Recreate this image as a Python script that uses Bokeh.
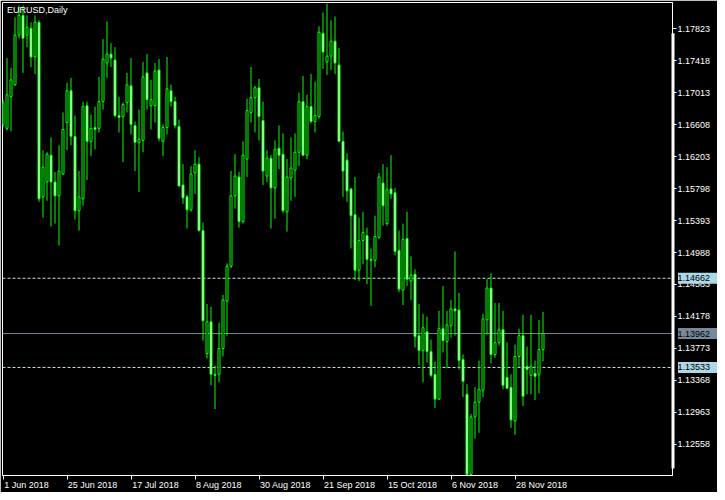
from bokeh.plotting import figure
from bokeh.models import Range1d, FixedTicker, PrintfTickFormatter, Span, Label, ColumnDataSource
from bokeh.embed import file_html
from bokeh.resources import INLINE
from bokeh.core.properties import value

symbol_title = "EURUSD,Daily"

opens = [1.16609, 1.16559, 1.16960, 1.17111, 1.17739, 1.17990, 1.17739, 1.17827, 1.17463, 1.17902,
         1.15693, 1.15881, 1.16220, 1.15881, 1.15705, 1.15981, 1.16634, 1.17036, 1.16458, 1.15517,
         1.15667, 1.16847, 1.16395, 1.16571, 1.16559, 1.16898, 1.17387, 1.17500, 1.17425, 1.16722,
         1.16709, 1.16885, 1.17098, 1.16596, 1.16383, 1.16408, 1.17262, 1.16847, 1.16847, 1.17299,
         1.16395, 1.16571, 1.17036, 1.16898, 1.16584, 1.15843, 1.15693, 1.15529, 1.15994, 1.16107,
         1.15266, 1.13709, 1.14111, 1.13446, 1.13446, 1.13772, 1.14374, 1.14814, 1.15705, 1.15944,
         1.15379, 1.16170, 1.16760, 1.16948, 1.17073, 1.16659, 1.15956, 1.16182, 1.15805, 1.16308,
         1.16232, 1.15504, 1.15931, 1.16031, 1.16257, 1.16898, 1.16220, 1.16835, 1.16647, 1.16709,
         1.17764, 1.17400, 1.17475, 1.17663, 1.17362, 1.16395, 1.16157, 1.15793, 1.15467, 1.14764,
         1.15140, 1.15203, 1.14902, 1.14889, 1.15178, 1.15868, 1.15354, 1.15793, 1.15743, 1.15015,
         1.14513, 1.15165, 1.14626, 1.14713, 1.13935, 1.13747, 1.13985, 1.13734, 1.13446, 1.13132,
         1.14023, 1.13860, 1.14061, 1.14274, 1.14261, 1.13634, 1.13194, 1.12178, 1.12906, 1.13094,
         1.13245, 1.14136, 1.14538, 1.13697, 1.13847, 1.14010, 1.13408, 1.13282, 1.12856, 1.13671,
         1.13935, 1.13546, 1.13433, 1.13458, 1.13446, 1.13759]

highs = [1.16923, 1.17450, 1.17324, 1.17965, 1.18115, 1.18115, 1.17990, 1.17902, 1.17990, 1.17927,
         1.16283, 1.16257, 1.16446, 1.16006, 1.16345, 1.16760, 1.17136, 1.17199, 1.16722, 1.16019,
         1.16898, 1.16898, 1.16734, 1.16835, 1.17211, 1.17688, 1.17914, 1.17638, 1.17588, 1.16960,
         1.16885, 1.17262, 1.17450, 1.16647, 1.16797, 1.17400, 1.17500, 1.17174, 1.17387, 1.17437,
         1.16609, 1.17463, 1.17111, 1.16960, 1.16672, 1.16107, 1.15718, 1.16082, 1.16283, 1.16195,
         1.15366, 1.14337, 1.14299, 1.13559, 1.14098, 1.14450, 1.14851, 1.16019, 1.16232, 1.16006,
         1.16395, 1.16935, 1.17337, 1.17098, 1.17186, 1.16898, 1.16283, 1.16220, 1.16408, 1.16596,
         1.16496, 1.16170, 1.16446, 1.16496, 1.17011, 1.17224, 1.16985, 1.17249, 1.17149, 1.17852,
         1.18027, 1.18140, 1.17927, 1.17977, 1.17575, 1.16521, 1.16245, 1.15805, 1.15944, 1.15429,
         1.15504, 1.15303, 1.15040, 1.15454, 1.15994, 1.16107, 1.16069, 1.16220, 1.15805, 1.15266,
         1.15354, 1.15504, 1.14939, 1.14776, 1.14337, 1.14211, 1.14174, 1.13885, 1.13609, 1.14249,
         1.14563, 1.14249, 1.14387, 1.15002, 1.14475, 1.13697, 1.13320, 1.12943, 1.13282, 1.13621,
         1.14211, 1.14651, 1.14726, 1.14349, 1.14349, 1.14249, 1.13847, 1.13446, 1.13822, 1.14023,
         1.14199, 1.13797, 1.14199, 1.13621, 1.14136, 1.14236]

lows = [1.16571, 1.16534, 1.16521, 1.17098, 1.17701, 1.17262, 1.17588, 1.17337, 1.17249, 1.15630,
        1.15429, 1.15642, 1.15316, 1.15354, 1.15077, 1.15969, 1.16283, 1.16345, 1.15404, 1.15266,
        1.15580, 1.15906, 1.16207, 1.16295, 1.16508, 1.16797, 1.17199, 1.17337, 1.16697, 1.16508,
        1.16132, 1.16760, 1.16483, 1.16019, 1.15755, 1.16257, 1.16797, 1.16546, 1.16634, 1.16395,
        1.16207, 1.16483, 1.16835, 1.16559, 1.15818, 1.15605, 1.15291, 1.15504, 1.15730, 1.15253,
        1.13872, 1.13646, 1.13307, 1.13006, 1.13345, 1.13671, 1.13935, 1.14789, 1.15542, 1.15303,
        1.15354, 1.15944, 1.16634, 1.16508, 1.16408, 1.15843, 1.15881, 1.15291, 1.15416, 1.16044,
        1.15492, 1.15253, 1.15642, 1.15693, 1.16082, 1.16207, 1.16170, 1.16621, 1.16508, 1.16684,
        1.17312, 1.17237, 1.17299, 1.17249, 1.16383, 1.15693, 1.15630, 1.15040, 1.14638, 1.14626,
        1.14839, 1.14588, 1.14312, 1.14801, 1.15165, 1.15328, 1.15328, 1.15667, 1.14952, 1.14487,
        1.14324, 1.14563, 1.14387, 1.13784, 1.13559, 1.13345, 1.13596, 1.13408, 1.13019, 1.13119,
        1.13722, 1.13521, 1.13910, 1.13935, 1.13508, 1.13157, 1.12165, 1.12165, 1.12630, 1.12705,
        1.13157, 1.13948, 1.13584, 1.13659, 1.13810, 1.13257, 1.13257, 1.12768, 1.12680, 1.13533,
        1.13044, 1.13194, 1.13194, 1.13119, 1.13207, 1.13609]

closes = [1.16885, 1.16985, 1.17174, 1.17739, 1.17990, 1.17701, 1.17839, 1.17463, 1.17902, 1.15667,
          1.16069, 1.16232, 1.15881, 1.15705, 1.16019, 1.16546, 1.17036, 1.16458, 1.15517, 1.15693,
          1.16835, 1.16395, 1.16559, 1.16546, 1.16898, 1.17437, 1.17500, 1.17450, 1.16722, 1.16697,
          1.16860, 1.17111, 1.16609, 1.16383, 1.16421, 1.17211, 1.16923, 1.16923, 1.17287, 1.16433,
          1.16571, 1.17061, 1.16898, 1.16596, 1.15831, 1.15680, 1.15529, 1.15981, 1.16107, 1.15266,
          1.14123, 1.14111, 1.13446, 1.13433, 1.13772, 1.14387, 1.14814, 1.15705, 1.15956, 1.15379,
          1.16220, 1.16785, 1.16948, 1.17073, 1.16709, 1.16019, 1.16182, 1.15805, 1.16295, 1.16220,
          1.15517, 1.15944, 1.16057, 1.16257, 1.16898, 1.16220, 1.16835, 1.16647, 1.16722, 1.17776,
          1.17525, 1.17475, 1.17663, 1.17387, 1.16395, 1.16019, 1.15768, 1.15454, 1.14764, 1.15140,
          1.15241, 1.14902, 1.14889, 1.15190, 1.15944, 1.15580, 1.15780, 1.15730, 1.15002, 1.14525,
          1.15153, 1.14651, 1.14701, 1.13923, 1.13747, 1.14036, 1.13734, 1.13433, 1.13132, 1.14023,
          1.13872, 1.14073, 1.14274, 1.14249, 1.13621, 1.13358, 1.12178, 1.12906, 1.13094, 1.13257,
          1.14148, 1.14538, 1.13697, 1.13847, 1.14010, 1.13307, 1.13270, 1.12868, 1.13671, 1.13935,
          1.13169, 1.13508, 1.13546, 1.13420, 1.13759, 1.13962]

date_ticks = [0, 16, 32, 48, 64, 80, 96, 112, 128]
date_labels = ["1 Jun 2018", "25 Jun 2018", "17 Jul 2018", "8 Aug 2018", "30 Aug 2018",
               "21 Sep 2018", "15 Oct 2018", "6 Nov 2018", "28 Nov 2018"]
price_ticks = [1.17823, 1.17418, 1.17013, 1.16608, 1.16203, 1.15798, 1.15393, 1.14988,
               1.14583, 1.14178, 1.13773, 1.13368, 1.12963, 1.12558]
level_prices = [1.14662, 1.13533]
bid_price = 1.13962

# layout helpers: shift (in bars) from each date tick to the centre of its left-aligned label
label_shift = [5.875, 6.375, 6.125, 6.0, 6.625, 6.625, 6.375, 6.0, 6.625]

FONT = "Liberation Sans"
FS = "9px"
LIME = "#00FF00"

n = len(opens)
idx = list(range(n))
bull = [c >= o for o, c in zip(opens, closes)]
src = ColumnDataSource(dict(
    x=idx, o=opens, h=highs, l=lows, c=closes,
    top=[max(o, c) for o, c in zip(opens, closes)],
    bottom=[min(o, c) for o, c in zip(opens, closes)],
    fill=["black" if b else "white" for b in bull],
))

x_start, x_end = -0.125, 167.375
p = figure(width=717, height=492, output_backend="svg", toolbar_location=None,
           x_range=Range1d(x_start, x_end), y_range=Range1d(1.12165, 1.18153),
           y_axis_location="right",
           background_fill_color="black", border_fill_color="black",
           min_border_left=2, min_border_right=45, min_border_top=2, min_border_bottom=14)
p.grid.visible = False
p.outline_line_color = "white"
p.outline_line_width = 1

for lv in level_prices:
    p.add_layout(Span(location=lv, dimension="width", line_color="#C6E2EE",
                      line_dash="3 2", line_width=1, level="underlay"))
p.add_layout(Span(location=bid_price, dimension="width", line_color="#778899",
                  line_width=1, level="underlay"))

p.segment(x0="x", y0="l", x1="x", y1="h", source=src, line_color=LIME, line_width=1)
p.vbar(x="x", width=0.5, top="top", bottom="bottom", source=src,
       fill_color="fill", line_color=LIME, line_width=1)

ya = p.yaxis[0]
ya.ticker = FixedTicker(ticks=price_ticks)
ya.formatter = PrintfTickFormatter(format="%.5f")
ya.axis_line_color = "white"
ya.major_tick_line_color = "white"
ya.major_tick_out = 4
ya.major_tick_in = 0
ya.minor_tick_out = 0
ya.minor_tick_in = 0
ya.major_label_standoff = 1
ya.major_label_text_color = "white"
ya.major_label_text_font = FONT
ya.major_label_text_font_size = FS

label_pos = [t + s for t, s in zip(date_ticks, label_shift)]
xa = p.xaxis[0]
xa.ticker = FixedTicker(ticks=label_pos, minor_ticks=date_ticks)
xa.major_label_overrides = {pos: s for pos, s in zip(label_pos, date_labels)}
xa.axis_line_color = "white"
xa.major_tick_line_color = None
xa.major_tick_out = 4
xa.major_tick_in = 0
xa.minor_tick_line_color = "white"
xa.minor_tick_out = 4
xa.minor_tick_in = 0
xa.major_label_standoff = 0
xa.major_label_text_color = "white"
xa.major_label_text_font = FONT
xa.major_label_text_font_size = FS

# thick white marker along the right border (drawn above the frame clip)
p.quad(left=[x_end - 0.25], right=[x_end + 0.5], top=[1.17764], bottom=[1.12253],
       fill_color="white", line_color=None, level="overlay")

# price tags at the right
tag_prices = [level_prices[0], bid_price, level_prices[1]]
tag_fill = ["#ADD8E6", "#778899", "#ADD8E6"]
tag_src = ColumnDataSource(dict(y=tag_prices, fill=tag_fill,
                                txt=["%.5f" % v for v in tag_prices]))
p.rect(x=x_end + 6.375, y="y", width=40, height=11, width_units="screen", height_units="screen",
       source=tag_src, fill_color="fill", line_color=None, level="overlay")
p.text(x=x_end + 1.25, y="y", text="txt", source=tag_src, text_align="left",
       text_baseline="middle", text_color="black", text_font=value(FONT),
       text_font_size=FS, level="overlay")

p.add_layout(Label(x=x_start + 1.15, y=1.18153, y_offset=-2, text=symbol_title, text_align="left",
                   text_baseline="top", text_color="white", text_font=FONT, text_font_size=FS))

open("out.html", "w").write(file_html(p, INLINE))
